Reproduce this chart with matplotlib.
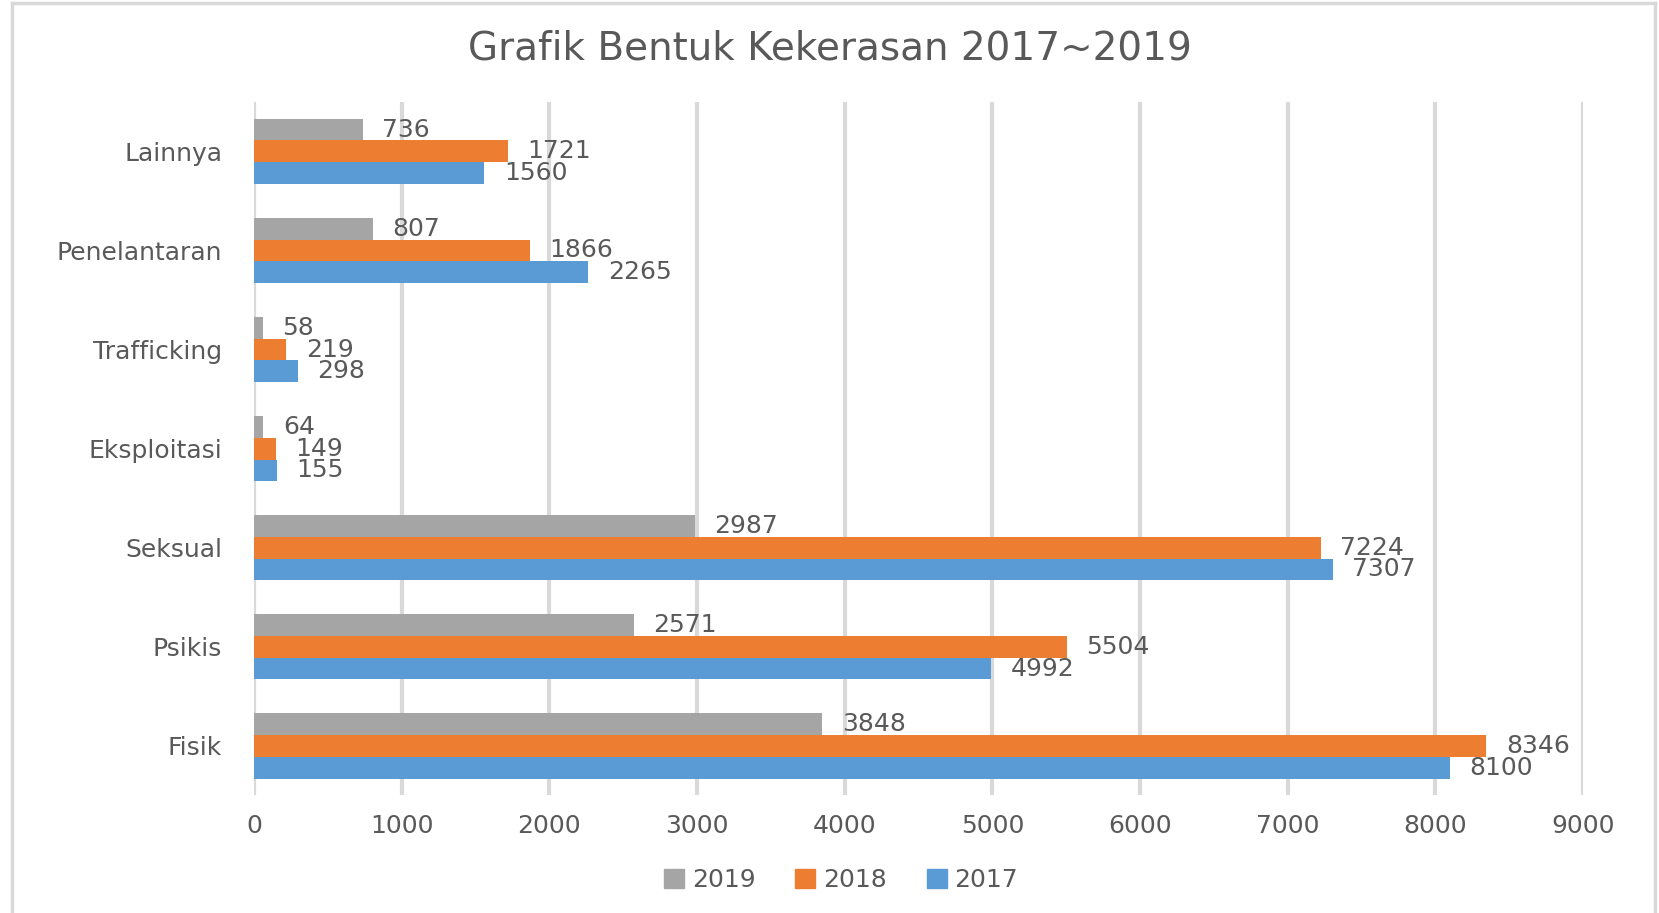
import matplotlib

matplotlib.use("Agg")
import matplotlib.pyplot as plt
from matplotlib.lines import Line2D
import numpy as np

categories = ["Fisik", "Psikis", "Seksual", "Eksploitasi", "Trafficking", "Penelantaran", "Lainnya"]
years = ["2019", "2018", "2017"]
v2019 = [3848, 2571, 2987, 64, 58, 807, 736]
v2018 = [8346, 5504, 7224, 149, 219, 1866, 1721]
v2017 = [8100, 4992, 7307, 155, 298, 2265, 1560]
colors = ["#A5A5A5", "#ED7D31", "#5B9BD5"]
xticks = [0, 1000, 2000, 3000, 4000, 5000, 6000, 7000, 8000, 9000]

text_c = "#595959"
grid_c = "#D9D9D9"

fig = plt.figure(figsize=(16.59, 9.13), dpi=100)
ax = fig.add_axes([0.1531, 0.1292, 0.8011, 0.7591])

y = np.arange(len(categories))
h = 0.222
series = [v2019, v2018, v2017]
offsets = [h, 0, -h]
for vals, col, off, yr in zip(series, colors, offsets, years):
    bars = ax.barh(y + off, vals, height=h, color=col, label=yr, zorder=3)
    ax.bar_label(bars, labels=[str(v) for v in vals], padding=14,
                 fontsize=18, color=text_c)

ax.set_xlim(0, 9000)
ax.set_ylim(-0.5, len(categories) - 0.5)
ax.set_xticks(xticks)
ax.set_xticklabels([str(t) for t in xticks], fontsize=18, color=text_c)
ax.set_yticks(y)
ax.set_yticklabels(categories, fontsize=18, color=text_c)
ax.tick_params(axis="both", length=0)
ax.tick_params(axis="x", pad=14)
ax.tick_params(axis="y", pad=23)
for s in ax.spines.values():
    s.set_visible(False)
ax.grid(axis="x", color=grid_c, linewidth=3, zorder=0)
ax.set_axisbelow(True)

fig.text(0.5, 0.947, "Grafik Bentuk Kekerasan 2017~2019", ha="center", va="center",
         fontsize=28, color=text_c)

handles = [plt.Rectangle((0, 0), 1, 1, color=c) for c in colors]
fig.legend(handles, years, loc="center", bbox_to_anchor=(0.507, 0.036), ncol=3,
           frameon=False, fontsize=18, labelcolor=text_c, handlelength=0.8,
           handleheight=0.8, handletextpad=0.3, columnspacing=1.6)

# chart frame
for xs, ys in [([0.0075, 0.0075], [0, 0.997]), ([0.0075, 0.9975], [0.997, 0.997]),
               ([0.9975, 0.9975], [0, 0.997])]:
    fig.add_artist(Line2D(xs, ys, color=grid_c, linewidth=2.5, transform=fig.transFigure))

fig.savefig("out.png", dpi=100, facecolor="white")
